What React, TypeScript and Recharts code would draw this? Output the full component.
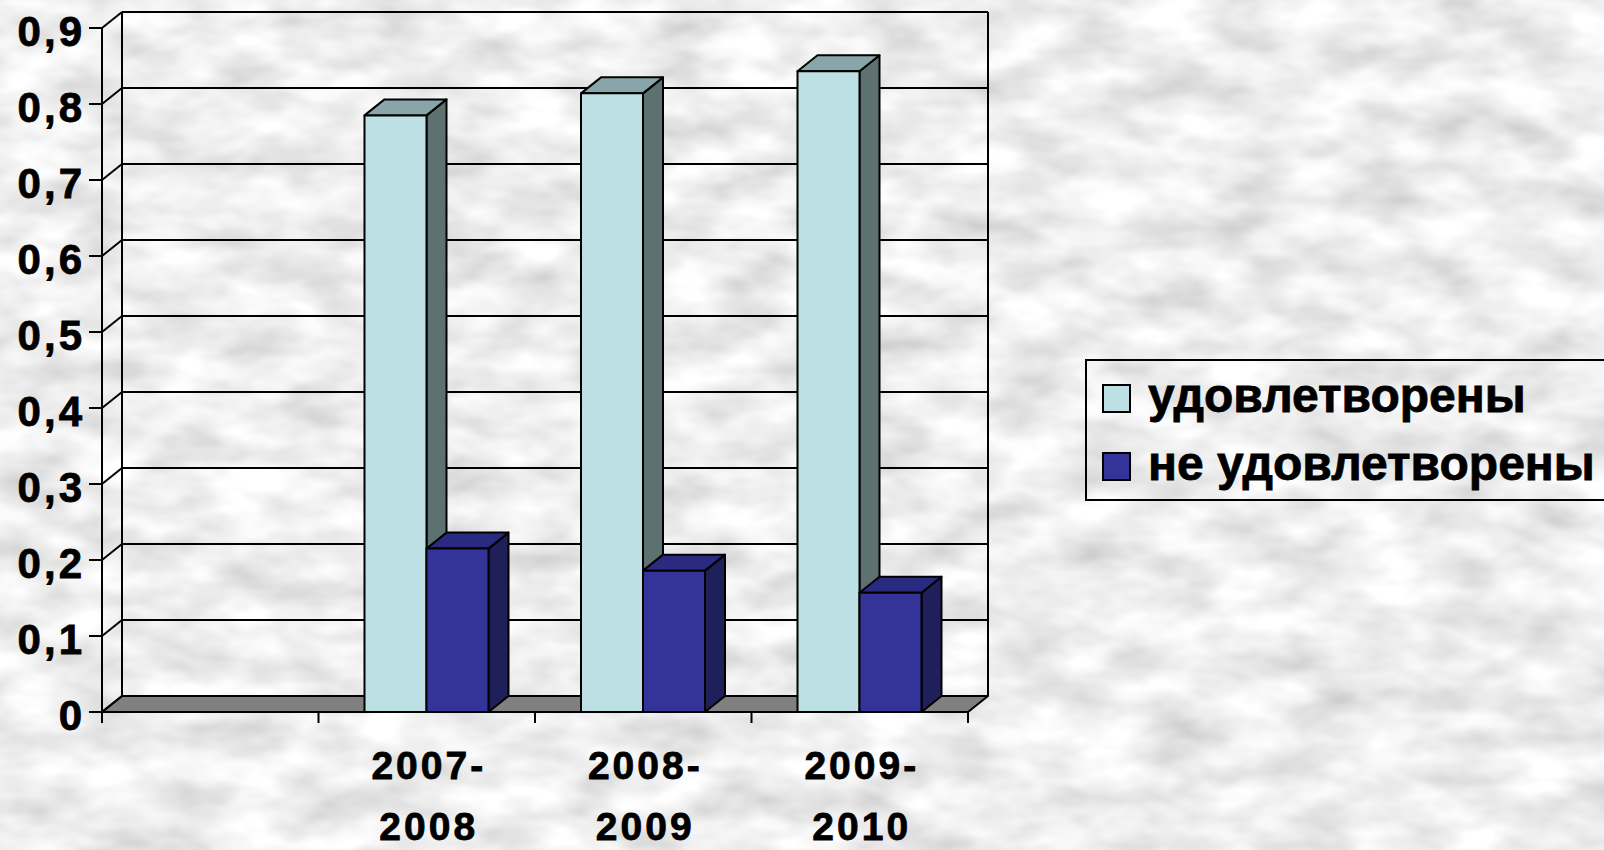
import { BarChart, Bar, XAxis, YAxis, CartesianGrid, Legend } from 'recharts'

const categories = ['', '2007-2008', '2008-2009', '2009-2010']
const satisfied = [null, 0.785, 0.814, 0.843]
const notSatisfied = [null, 0.215, 0.186, 0.157]
const valueTicks = [0, 0.1, 0.2, 0.3, 0.4, 0.5, 0.6, 0.7, 0.8, 0.9]
const seriesNames = ['удовлетворены', 'не удовлетворены']

const data = categories.map((name, i) => ({
  name,
  sat: satisfied[i],
  notSat: notSatisfied[i],
}))

const W = 1604
const H = 850
const DX = 20
const DY = 16
const MARGIN = { top: 28, right: 636, bottom: 8, left: 0 }
const Y_AXIS_W = 102
const PLOT_LEFT = MARGIN.left + Y_AXIS_W
const PLOT_RIGHT = W - MARGIN.right
const PLOT_BOTTOM = H - 138
const FONT = '"Liberation Sans", Arial, sans-serif'

const LIGHT = { front: '#bce0e3', top: '#88a6aa', side: '#5e7171' }
const DARK = { front: '#333399', top: '#2a2a80', side: '#1f1f5a' }

function Box3D(props: any) {
  const { x, y, width, height, value, faces } = props
  if (value == null || !height) return <g />
  const r = x + width
  const b = y + height
  return (
    <g stroke="#000" strokeWidth={2} strokeLinejoin="round">
      <polygon points={`${r},${y} ${r + DX},${y - DY} ${r + DX},${b - DY} ${r},${b}`} fill={faces.side} />
      <polygon points={`${x},${y} ${x + DX},${y - DY} ${r + DX},${y - DY} ${r},${y}`} fill={faces.top} />
      <rect x={x} y={y} width={width} height={height} fill={faces.front} />
    </g>
  )
}

function WallLine(props: any) {
  const { x1, y1, x2 } = props
  const isFloor = Math.abs(y1 - PLOT_BOTTOM) < 1
  return (
    <g key={props.key} stroke="#000" strokeWidth={2}>
      {isFloor ? (
        <polygon
          points={`${x1},${y1} ${x2},${y1} ${x2 + DX},${y1 - DY} ${x1 + DX},${y1 - DY}`}
          fill="#808080"
          strokeLinejoin="round"
        />
      ) : (
        <line x1={x1 + DX} y1={y1 - DY} x2={x2 + DX} y2={y1 - DY} />
      )}
      <line x1={x1} y1={y1} x2={x1 + DX} y2={y1 - DY} />
    </g>
  )
}

function WallEdge(props: any) {
  const { x1, y1, y2 } = props
  return (
    <line key={props.key} x1={x1 + DX} y1={y1 - DY} x2={x1 + DX} y2={y2 - DY} stroke="#000" strokeWidth={2} />
  )
}

function ValueTick(props: any) {
  const { x, y, payload } = props
  return (
    <text
      x={x}
      y={y + 18}
      textAnchor="end"
      fontFamily={FONT}
      fontWeight="bold"
      fontSize={42}
      letterSpacing={3}
      fill="#000"
      stroke="#000"
      strokeWidth={0.8}
    >
      {String(payload.value).replace('.', ',')}
    </text>
  )
}

function CategoryTick(props: any) {
  const { x, y, payload, index } = props
  const label = String(payload.value)
  const bw = (PLOT_RIGHT - PLOT_LEFT) / categories.length
  const cut = label.indexOf('-') + 1
  const lines = label ? [label.slice(0, cut), label.slice(cut)] : []
  return (
    <g>
      <line x1={x - bw / 2} y1={y} x2={x - bw / 2} y2={y + 11} stroke="#000" strokeWidth={2} />
      {index === categories.length - 1 && (
        <line x1={x + bw / 2} y1={y} x2={x + bw / 2} y2={y + 11} stroke="#000" strokeWidth={2} />
      )}
      {lines.map((t, i) => (
        <text
          key={i}
          x={x + 2}
          y={y + 67 + i * 61}
          textAnchor="middle"
          fontFamily={FONT}
          fontWeight="bold"
          fontSize={39}
          letterSpacing={3}
          fill="#000"
          stroke="#000"
          strokeWidth={0.8}
        >
          {t}
        </text>
      ))}
    </g>
  )
}

function LegendBox(props: any) {
  const items = (props.payload || [])
    .slice()
    .sort((a: any, b: any) => seriesNames.indexOf(a.value) - seriesNames.indexOf(b.value))
  return (
    <div
      style={{
        position: 'relative',
        width: 519,
        height: 142,
        border: '2px solid #000',
        borderRight: 'none',
        boxSizing: 'border-box',
        fontFamily: FONT,
      }}
    >
      {items.map((item: any, i: number) => (
        <div key={i}>
          <div
            style={{
              position: 'absolute',
              left: 15,
              top: 23 + i * 68,
              width: 29,
              height: 29,
              boxSizing: 'border-box',
              border: '2px solid #000',
              background: item.color,
            }}
          />
          <div
            style={{
              position: 'absolute',
              left: 61,
              top: 11 + i * 68,
              fontSize: 48,
              lineHeight: '48px',
              fontWeight: 'bold',
              whiteSpace: 'nowrap',
              color: '#000',
              WebkitTextStroke: '0.8px #000',
            }}
          >
            {item.value}
          </div>
        </div>
      ))}
    </div>
  )
}

export default function App() {
  return (
    <div style={{ position: 'absolute', left: 0, top: 0, width: W, height: H, overflow: 'hidden' }}>
      <svg width={W} height={H} style={{ position: 'absolute', left: 0, top: 0 }}>
        <filter id="paper" x="0" y="0" width="100%" height="100%">
          <feTurbulence type="fractalNoise" baseFrequency="0.014 0.028" numOctaves={3} seed={7} />
          <feColorMatrix type="matrix" values="0.6 0 0 0 0.56  0.6 0 0 0 0.56  0.6 0 0 0 0.56  0 0 0 0 1" />
        </filter>
        <rect width={W} height={H} filter="url(#paper)" />
      </svg>
      <div style={{ position: 'relative' }}>
        <BarChart width={W} height={H} data={data} margin={MARGIN} barGap={0} barSize={62}>
          <CartesianGrid
            horizontal={WallLine}
            vertical={WallEdge}
            verticalCoordinatesGenerator={({ offset }: any) => [offset.left, offset.left + offset.width]}
          />
          <XAxis
            dataKey="name"
            height={130}
            axisLine={{ stroke: '#000', strokeWidth: 2 }}
            tickLine={false}
            tickSize={0}
            tickMargin={0}
            interval={0}
            tick={<CategoryTick />}
          />
          <YAxis
            width={Y_AXIS_W}
            domain={[0, 0.9]}
            ticks={valueTicks}
            interval={0}
            axisLine={{ stroke: '#000', strokeWidth: 2 }}
            tickLine={{ stroke: '#000', strokeWidth: 2 }}
            tickSize={13}
            tickMargin={4}
            tick={<ValueTick />}
          />
          <Legend
            layout="vertical"
            align="center"
            verticalAlign="middle"
            wrapperStyle={{ left: 1085, top: 359, width: 519, height: 142 }}
            content={<LegendBox />}
          />
          <Bar
            dataKey="sat"
            name={seriesNames[0]}
            fill={LIGHT.front}
            legendType="square"
            isAnimationActive={false}
            shape={(p: any) => <Box3D {...p} faces={LIGHT} />}
          />
          <Bar
            dataKey="notSat"
            name={seriesNames[1]}
            fill={DARK.front}
            legendType="square"
            isAnimationActive={false}
            shape={(p: any) => <Box3D {...p} faces={DARK} />}
          />
        </BarChart>
      </div>
    </div>
  )
}
